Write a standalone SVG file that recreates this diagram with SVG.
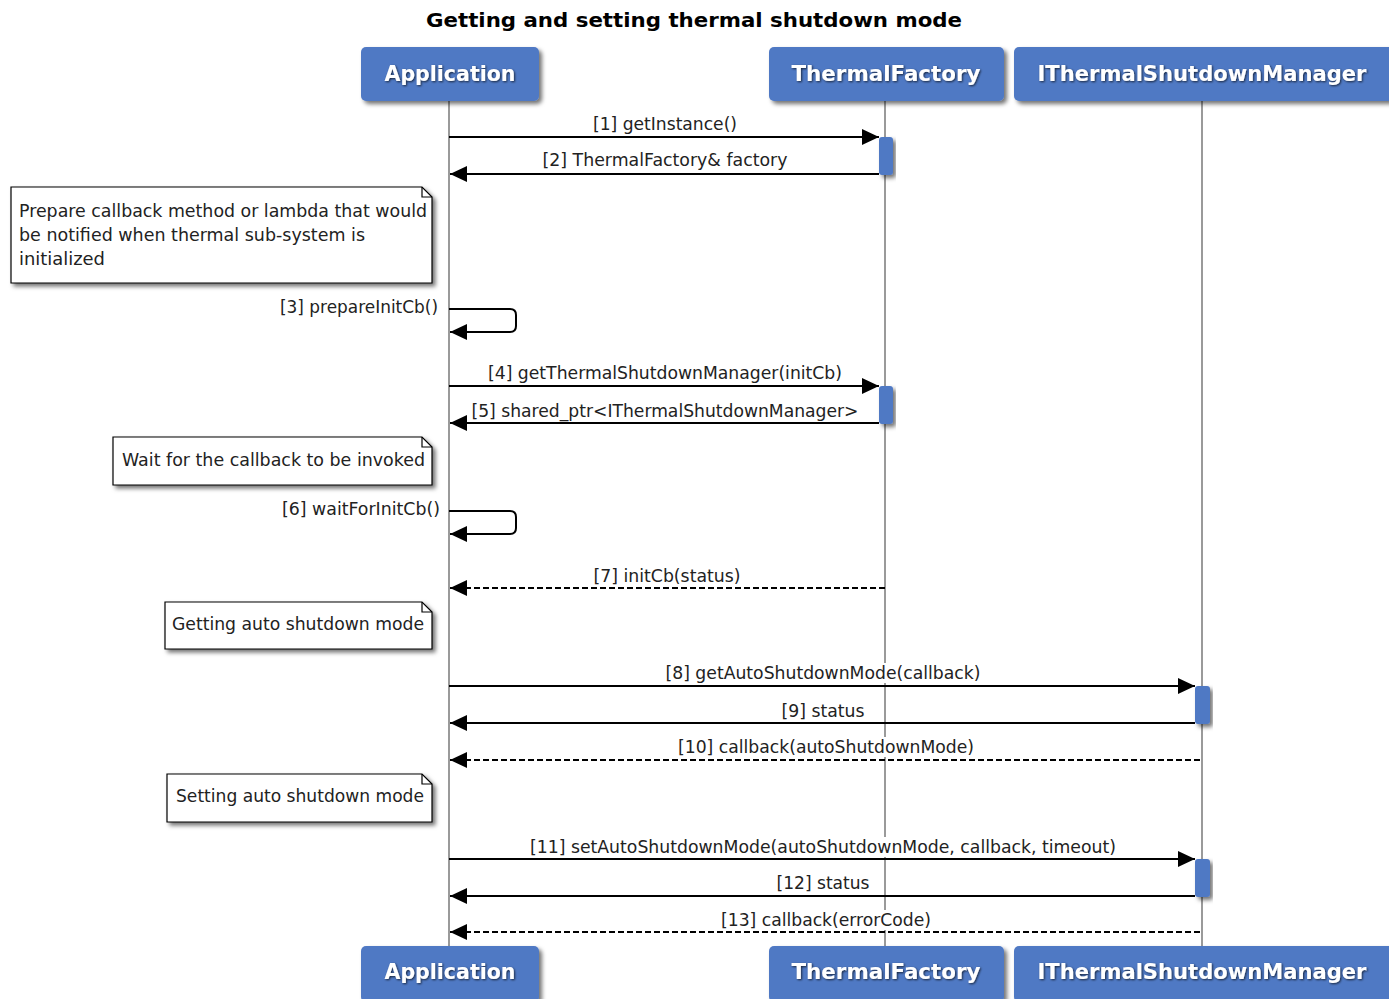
<svg xmlns="http://www.w3.org/2000/svg" width="1389" height="999" viewBox="0 0 1389 999">
<style>
.title{font-family:"DejaVu Sans","Liberation Sans",sans-serif;font-weight:bold;font-size:19px;fill:#000;text-anchor:middle}
.pbox{fill:#4f79c4;filter:url(#sh)}
.ptext{font-family:"DejaVu Sans","Liberation Sans",sans-serif;font-weight:bold;font-size:21px;fill:#fff;text-anchor:middle;filter:url(#tsh)}
.life{stroke:#9a9a9a;stroke-width:2;fill:none}
.act{fill:#4f79c4;filter:url(#sh)}
.msg{stroke:#000;stroke-width:2;fill:none}
.dash{stroke-dasharray:6,3}
.bg{fill:#fff}
.lbl{font-family:"DejaVu Sans","Liberation Sans",sans-serif;font-size:17px;fill:#222;text-anchor:middle}
.lblr{font-family:"DejaVu Sans","Liberation Sans",sans-serif;font-size:17px;fill:#222;text-anchor:end}
.note{fill:#fff;stroke:#000;stroke-width:1.2;filter:url(#sh)}
.fold{fill:none;stroke:#000;stroke-width:1.2}
.ntext{font-family:"DejaVu Sans","Liberation Sans",sans-serif;font-size:17px;fill:#222}
</style>
<defs>
<filter id="sh" x="-10%" y="-10%" width="130%" height="140%">
<feDropShadow dx="3" dy="3" stdDeviation="2" flood-color="#000" flood-opacity="0.55"/>
</filter>
<filter id="tsh" x="-10%" y="-30%" width="120%" height="160%">
<feDropShadow dx="1" dy="1" stdDeviation="1" flood-color="#000" flood-opacity="0.7"/>
</filter>
<marker id="ah" markerUnits="userSpaceOnUse" markerWidth="18" markerHeight="16" refX="17" refY="8" orient="auto">
<path d="M0,0 L17,8 L0,16 z" fill="#000"/>
</marker>
</defs>

<text class="title" x="694" y="27" textLength="536" lengthAdjust="spacingAndGlyphs">Getting and setting thermal shutdown mode</text>

<g id="lifelines">
<line class="life" x1="449" y1="101" x2="449" y2="946"/>
<line class="life" x1="885" y1="101" x2="885" y2="946"/>
<line class="life" x1="1202" y1="101" x2="1202" y2="946"/>
</g>

<g id="Application">
<rect class="pbox" x="361" y="47" width="178" height="54" rx="5"/>
<text class="ptext" x="450" y="81" textLength="131" lengthAdjust="spacingAndGlyphs">Application</text>
<rect class="pbox" x="361" y="946" width="178" height="56" rx="5"/>
<text class="ptext" x="450" y="979" textLength="131" lengthAdjust="spacingAndGlyphs">Application</text>
</g>
<g id="ThermalFactory">
<rect class="pbox" x="769" y="47" width="235" height="54" rx="5"/>
<text class="ptext" x="886" y="81" textLength="189" lengthAdjust="spacingAndGlyphs">ThermalFactory</text>
<rect class="pbox" x="769" y="946" width="235" height="56" rx="5"/>
<text class="ptext" x="886" y="979" textLength="189" lengthAdjust="spacingAndGlyphs">ThermalFactory</text>
</g>
<g id="IThermalShutdownManager">
<rect class="pbox" x="1014" y="47" width="380" height="54" rx="5"/>
<text class="ptext" x="1202" y="81" textLength="329" lengthAdjust="spacingAndGlyphs">IThermalShutdownManager</text>
<rect class="pbox" x="1014" y="946" width="380" height="56" rx="5"/>
<text class="ptext" x="1202" y="979" textLength="329" lengthAdjust="spacingAndGlyphs">IThermalShutdownManager</text>
</g>

<g id="activations">
<rect class="act" x="879" y="137" width="14" height="38" rx="3"/>
<rect class="act" x="879" y="386" width="14" height="38" rx="3"/>
<rect class="act" x="1195" y="686" width="15" height="38" rx="3"/>
<rect class="act" x="1195" y="859" width="15" height="38" rx="3"/>
</g>

<g id="note1">
<path class="note" d="M11,187 H422 L432,197 V283 H11 Z"/>
<path class="fold" d="M422,187 V197 H432"/>
<text class="ntext" x="19" y="217" textLength="408" lengthAdjust="spacingAndGlyphs">Prepare callback method or lambda that would</text>
<text class="ntext" x="19" y="241" textLength="346" lengthAdjust="spacingAndGlyphs">be notified when thermal sub-system is</text>
<text class="ntext" x="19" y="265" textLength="86" lengthAdjust="spacingAndGlyphs">initialized</text>
</g>
<g id="note2">
<path class="note" d="M113,437 H422 L432,447 V485 H113 Z"/>
<path class="fold" d="M422,437 V447 H432"/>
<text class="ntext" x="122" y="466" textLength="303" lengthAdjust="spacingAndGlyphs">Wait for the callback to be invoked</text>
</g>
<g id="note3">
<path class="note" d="M165,602 H422 L432,612 V649 H165 Z"/>
<path class="fold" d="M422,602 V612 H432"/>
<text class="ntext" x="172" y="630" textLength="252" lengthAdjust="spacingAndGlyphs">Getting auto shutdown mode</text>
</g>
<g id="note4">
<path class="note" d="M167,774 H422 L432,784 V822 H167 Z"/>
<path class="fold" d="M422,774 V784 H432"/>
<text class="ntext" x="176" y="802" textLength="248" lengthAdjust="spacingAndGlyphs">Setting auto shutdown mode</text>
</g>

<g id="connectors">
<line class="msg" x1="449" y1="137" x2="879" y2="137" marker-end="url(#ah)"/>
<text class="lbl" x="665" y="130" textLength="144" lengthAdjust="spacingAndGlyphs">[1] getInstance()</text>

<line class="msg" x1="879" y1="174" x2="450" y2="174" marker-end="url(#ah)"/>
<text class="lbl" x="665" y="166" textLength="245" lengthAdjust="spacingAndGlyphs">[2] ThermalFactory&amp; factory</text>

<path class="msg" d="M449,309 H510 Q516,309 516,315 V326 Q516,332 510,332 H450" marker-end="url(#ah)"/>
<text class="lblr" x="438" y="313" textLength="158" lengthAdjust="spacingAndGlyphs">[3] prepareInitCb()</text>

<line class="msg" x1="449" y1="386" x2="879" y2="386" marker-end="url(#ah)"/>
<text class="lbl" x="665" y="379" textLength="354" lengthAdjust="spacingAndGlyphs">[4] getThermalShutdownManager(initCb)</text>

<line class="msg" x1="879" y1="423" x2="450" y2="423" marker-end="url(#ah)"/>
<text class="lbl" x="665" y="417" textLength="387" lengthAdjust="spacingAndGlyphs">[5] shared_ptr&lt;IThermalShutdownManager&gt;</text>

<path class="msg" d="M449,511 H510 Q516,511 516,517 V528 Q516,534 510,534 H450" marker-end="url(#ah)"/>
<text class="lblr" x="440" y="515" textLength="158" lengthAdjust="spacingAndGlyphs">[6] waitForInitCb()</text>

<line class="msg dash" x1="885" y1="588" x2="450" y2="588" marker-end="url(#ah)"/>
<text class="lbl" x="667" y="582" textLength="147" lengthAdjust="spacingAndGlyphs">[7] initCb(status)</text>

<line class="msg" x1="449" y1="686" x2="1195" y2="686" marker-end="url(#ah)"/>
<rect class="bg" x="666" y="663" width="315" height="20"/>
<text class="lbl" x="823" y="679" textLength="315" lengthAdjust="spacingAndGlyphs">[8] getAutoShutdownMode(callback)</text>

<line class="msg" x1="1195" y1="723" x2="450" y2="723" marker-end="url(#ah)"/>
<rect class="bg" x="782" y="701" width="83" height="19"/>
<text class="lbl" x="823" y="717" textLength="83" lengthAdjust="spacingAndGlyphs">[9] status</text>

<line class="msg dash" x1="1200" y1="760" x2="450" y2="760" marker-end="url(#ah)"/>
<rect class="bg" x="678" y="737" width="296" height="20"/>
<text class="lbl" x="826" y="753" textLength="296" lengthAdjust="spacingAndGlyphs">[10] callback(autoShutdownMode)</text>

<line class="msg" x1="449" y1="859" x2="1195" y2="859" marker-end="url(#ah)"/>
<rect class="bg" x="530" y="837" width="586" height="20"/>
<text class="lbl" x="823" y="853" textLength="586" lengthAdjust="spacingAndGlyphs">[11] setAutoShutdownMode(autoShutdownMode, callback, timeout)</text>

<line class="msg" x1="1195" y1="896" x2="450" y2="896" marker-end="url(#ah)"/>
<rect class="bg" x="777" y="873" width="93" height="20"/>
<text class="lbl" x="823" y="889" textLength="93" lengthAdjust="spacingAndGlyphs">[12] status</text>

<line class="msg dash" x1="1200" y1="932" x2="450" y2="932" marker-end="url(#ah)"/>
<rect class="bg" x="721" y="910" width="210" height="20"/>
<text class="lbl" x="826" y="926" textLength="210" lengthAdjust="spacingAndGlyphs">[13] callback(errorCode)</text>
</g>
</svg>
